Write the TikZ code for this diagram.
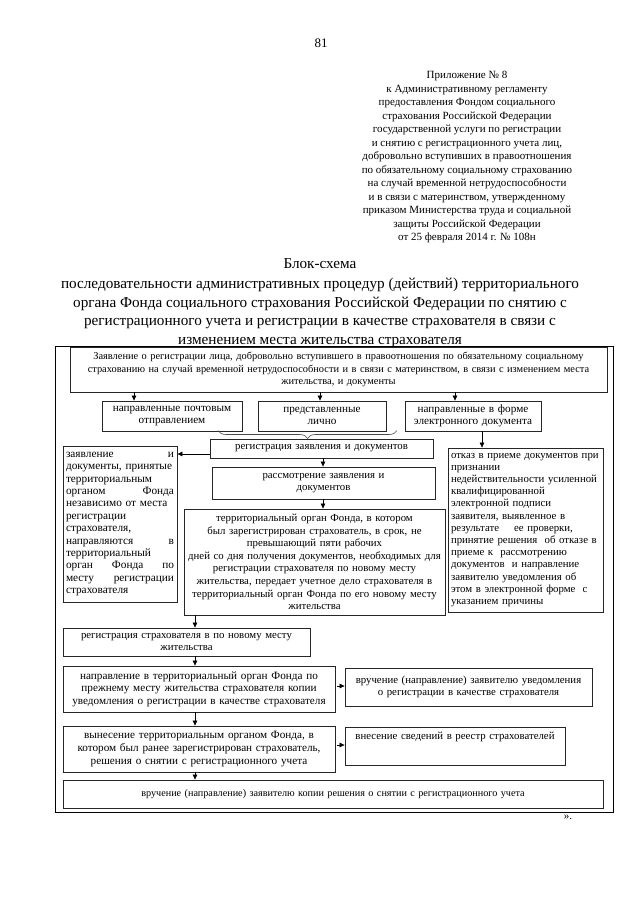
\documentclass[tikz,border=0pt]{standalone}
\usepackage{fontspec}
\setmainfont{Liberation Serif}
\usetikzlibrary{arrows.meta,decorations.pathreplacing,calc}
\newcommand{\boxfont}{\fontsize{10.8}{12.6}\selectfont}
\tikzset{
  bx/.style={draw=black!85, line width=0.8pt, inner xsep=3pt, inner ysep=1pt, align=center, font=\boxfont},
  arr/.style={draw=black, line width=0.7pt, -{Triangle[length=5pt,width=4.5pt]}},
}
\begin{document}
\begin{tikzpicture}[x=1pt,y=-1pt]
\useasboundingbox (0,0) rectangle (640,905);
\fill[white] (0,0) rectangle (640,905);

\node[font=\fontsize{13}{15}\selectfont, inner sep=0] (pg) at (321,43) {81};

\node[anchor=north, align=center, font=\fontsize{11}{13.5}\selectfont, inner sep=0] (hdr) at (467,71)
{Приложение № 8\\
к Административному регламенту\\
предоставления Фондом социального\\
страхования Российской Федерации\\
государственной услуги по регистрации\\
и снятию с регистрационного учета лиц,\\
добровольно вступивших в правоотношения\\
по обязательному социальному страхованию\\
на случай временной нетрудоспособности\\
и в связи с материнством, утвержденному\\
приказом Министерства труда и социальной\\
защиты Российской Федерации\\
от 25 февраля 2014 г. № 108н};

\node[anchor=north, align=center, font=\fontsize{15.2}{18.5}\selectfont, inner sep=0] (ttl) at (320,258.5)
{Блок-схема\\[1.5pt]
последовательности административных процедур (действий) территориального\\
органа Фонда социального страхования Российской Федерации по снятию с\\
регистрационного учета и регистрации в качестве страхователя в связи с\\
изменением места жительства страхователя};

% outer frame
\draw[line width=0.8pt] (55,346) rectangle (613,812);

\node[bx, font=\fontsize{10.4}{12.6}\selectfont, minimum width=537pt, minimum height=45pt, text width=531pt] (top) at (338.5,369.5)
{Заявление о регистрации лица, добровольно вступившего в правоотношения по обязательному социальному\\
страхованию на случай временной нетрудоспособности и в связи с материнством, в связи с изменением места\\
жительства, и документы};

\node[bx, font=\fontsize{11.2}{12.4}\selectfont, minimum width=140pt, minimum height=30pt, text width=134pt] (post) at (172,416)
{направленные почтовым\\отправлением};
\node[bx, font=\fontsize{11.2}{12.4}\selectfont, minimum width=128pt, minimum height=30pt, text width=122pt] (pers) at (322,416)
{представленные\\лично};
\node[bx, font=\fontsize{11.2}{12.4}\selectfont, minimum width=136pt, minimum height=30pt, text width=130pt] (elec) at (473,416)
{направленные в форме\\электронного документа};

\node[bx, minimum width=223pt, minimum height=19pt, text width=217pt] (reg) at (321.5,448.5)
{регистрация заявления и документов};
\node[bx, minimum width=223pt, minimum height=32pt, text width=217pt] (cons) at (323.5,483)
{рассмотрение заявления и\\документов};
\node[bx, minimum width=261pt, minimum height=106pt, text width=255pt] (big) at (314.5,562)
{территориальный орган Фонда, в котором\\
был зарегистрирован страхователь, в срок, не\\
превышающий пяти рабочих\\
дней со дня получения документов, необходимых для\\
регистрации страхователя по новому месту\\
жительства, передает учетное дело страхователя в\\
территориальный орган Фонда по его новому месту\\
жительства};

\node[bx, align=left, font=\fontsize{11.3}{12.4}\selectfont, minimum width=114pt, minimum height=156pt, text width=108pt] (left) at (120,524)
{заявление\hfill и\\
документы, принятые\\
территориальным\\
органом\hfill Фонда\\
независимо от места\\
регистрации\\
страхователя,\\
направляются\hfill в\\
территориальный\\
орган\hfill Фонда\hfill по\\
месту\hfill регистрации\\
страхователя};

\node[bx, align=left, font=\fontsize{10.8}{12.2}\selectfont, minimum width=155pt, minimum height=164pt, text width=149pt] (refu) at (525.5,530)
{отказ в приеме документов при\\
признании\\
недействительности усиленной\\
квалифицированной\\
электронной подписи\\
заявителя, выявленное в\\
результате\hspace{1.4em}ее проверки,\\
принятие решения\ \ об отказе в\\
приеме к\ \ рассмотрению\\
документов\ \ и направление\\
заявителю уведомления об\\
этом в электронной форме\ \ с\\
указанием причины};

\node[bx, minimum width=247pt, minimum height=28pt, text width=241pt] (regins) at (186.5,642)
{регистрация страхователя в по новому месту\\жительства};
\node[bx, font=\fontsize{11.2}{12.6}\selectfont, minimum width=272pt, minimum height=46pt, text width=266pt] (send) at (199,689)
{направление в территориальный орган Фонда по\\
прежнему месту жительства страхователя копии\\
уведомления о регистрации в качестве страхователя};
\node[bx, minimum width=247pt, minimum height=38pt, text width=241pt] (hand1) at (468.5,687)
{вручение (направление) заявителю уведомления\\
о регистрации в качестве страхователя};
\node[bx, font=\fontsize{11.2}{12.6}\selectfont, minimum width=272pt, minimum height=46pt, text width=266pt] (dec) at (199,749)
{вынесение территориальным органом Фонда, в\\
котором был ранее зарегистрирован страхователь,\\
решения о снятии с регистрационного учета};
\node[bx, minimum width=220pt, minimum height=38pt, text width=214pt] (rgstr) at (455,746)
{внесение сведений в реестр страхователей\\[5pt]\strut};
\node[bx, font=\fontsize{10.2}{12.6}\selectfont, minimum width=540pt, minimum height=28pt, text width=534pt] (hand2) at (333,794)
{вручение (направление) заявителю копии решения о снятии с регистрационного учета};

\node[font=\fontsize{11}{12}\selectfont, inner sep=0] (endq) at (568,817) {».};

% helper x positions
\coordinate (xa) at (134,0);
\coordinate (xb) at (320,0);
\coordinate (xc) at (455,0);
\coordinate (xd) at (482,0);
\coordinate (xe) at (323,0);
\coordinate (xf) at (195,0);
\coordinate (ya) at (0,454);
\coordinate (yb) at (0,686);
\coordinate (yc) at (0,745);

\draw[arr] (top.south -| xa) -- (post.north -| xa);
\draw[arr] (top.south -| xb) -- (pers.north -| xb);
\draw[arr] (top.south -| xc) -- (elec.north -| xc);
\draw[arr] (elec.south -| xd) -- (refu.north -| xd);

\coordinate (bl) at (218,430.5);
\coordinate (br) at (397,430.5);
\draw[black!70, line width=0.6pt, decorate, decoration={brace, mirror, amplitude=8pt}] (bl) -- (br);

\draw[arr] (reg.west |- ya) -- (left.east |- ya);
\draw[arr] (reg.south -| xe) -- (cons.north -| xe);
\draw[arr] (cons.south -| xe) -- (big.north -| xe);
\draw[arr] (big.south -| xf) -- (regins.north -| xf);
\draw[arr] (regins.south -| xf) -- (send.north -| xf);
\draw[arr, shorten <=2pt] (send.east |- yb) -- (hand1.west |- yb);
\draw[arr] (send.south -| xf) -- (dec.north -| xf);
\draw[arr, shorten <=2pt] (dec.east |- yc) -- (rgstr.west |- yc);
\draw[arr] (dec.south -| xf) -- (hand2.north -| xf);
\end{tikzpicture}
\end{document}
